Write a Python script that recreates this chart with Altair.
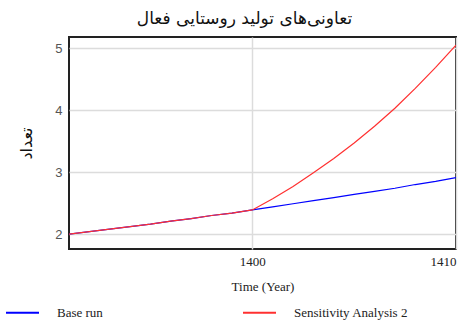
import altair as alt
import pandas as pd

years = list(range(1391, 1411))
base_run = [2.00, 2.04, 2.08, 2.12, 2.16, 2.21, 2.25, 2.30, 2.34, 2.39,
            2.44, 2.49, 2.54, 2.59, 2.64, 2.69, 2.74, 2.80, 2.85, 2.91]
sensitivity = [2.00, 2.04, 2.08, 2.12, 2.16, 2.21, 2.25, 2.30, 2.34, 2.39,
               2.57, 2.77, 2.99, 3.22, 3.47, 3.74, 4.03, 4.35, 4.69, 5.05]
series_names = ["Base run", "Sensitivity Analysis 2"]
series_colors = ["#0000ff", "#ff3030"]
x_ticks = [1400, 1410]
y_ticks = [2, 3, 4, 5]

df = pd.DataFrame({
    "year": years + years,
    "value": base_run + sensitivity,
    "series": [series_names[0]] * len(years) + [series_names[1]] * len(years),
})

chart = alt.Chart(df).mark_line(strokeWidth=1.2, clip=True).encode(
    x=alt.X("year:Q",
            scale=alt.Scale(domain=[1391, 1410], nice=False, zero=False),
            axis=alt.Axis(values=x_ticks, title="Time (Year)", format="d",
                          domain=False, ticks=False, grid=True,
                          gridColor="#dcdcdc", gridWidth=1.5,
                          labelFont="Liberation Serif", labelFontSize=13,
                          labelColor="#222", labelPadding=6,
                          titleFont="Liberation Serif", titleFontSize=13,
                          titleFontWeight="normal", titleColor="#222",
                          titlePadding=12)),
    y=alt.Y("value:Q",
            scale=alt.Scale(domain=[1.76, 5.18], nice=False, zero=False),
            axis=alt.Axis(values=y_ticks, title="تعداد",
                          domain=False, ticks=False, grid=True,
                          gridColor="#dcdcdc", gridWidth=1.5,
                          labelFont="Liberation Sans", labelFontSize=13,
                          labelColor="#555", labelPadding=7,
                          titleFont="DejaVu Sans", titleFontSize=16,
                          titleFontWeight="normal", titleColor="#111",
                          titlePadding=20)),
    color=alt.Color("series:N",
                    scale=alt.Scale(domain=series_names, range=series_colors),
                    legend=alt.Legend(title=None, orient="none",
                                      legendX=-64, legendY=258,
                                      direction="horizontal",
                                      symbolType="stroke", symbolSize=1089,
                                      symbolStrokeWidth=2,
                                      labelOffset=17,
                                      columnPadding=136,
                                      labelFont="Liberation Serif",
                                      labelFontSize=13, labelColor="#222",
                                      labelLimit=300)),
).properties(
    width=387,
    height=212,
    title=alt.TitleParams(text="تعاونی‌های تولید روستایی فعال",
                          font="DejaVu Sans", fontSize=17,
                          fontWeight="normal", color="#111",
                          anchor="middle", offset=9, dx=-18),
    autosize=alt.AutoSizeParams(type="none"),
    padding={"left": 69, "top": 37, "right": 17, "bottom": 71},
).configure_view(
    stroke="#222", strokeWidth=2
)

chart.save("out.html", embed_options={"renderer": "svg", "actions": False})
